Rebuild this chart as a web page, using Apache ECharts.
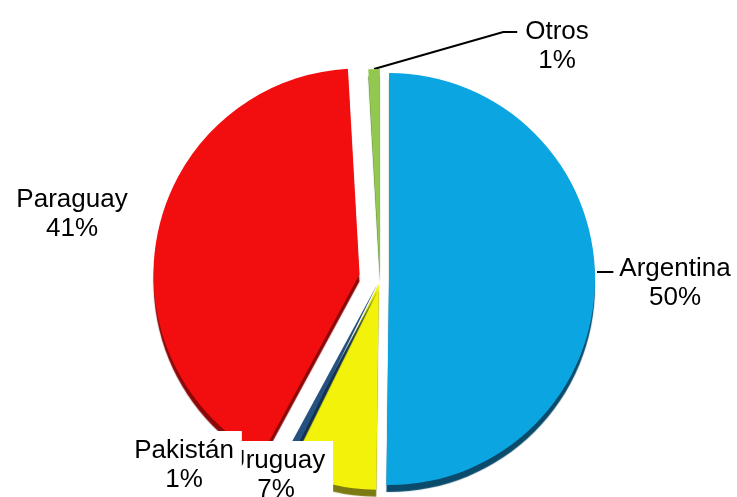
<!DOCTYPE html>
<html>
<head>
<meta charset="utf-8">
<script src="https://cdn.jsdelivr.net/npm/echarts@6/dist/echarts.min.js"></script>
<style>
html, body { margin: 0; padding: 0; background: #fff; }
#chart { width: 737px; height: 497px; }
</style>
</head>
<body>
<div id="chart"></div>
<script>
// datos (sentido horario desde las 12)
const categories = ['Argentina', 'Uruguay', 'Pakistán', 'Paraguay', 'Otros'];
const values = [50.2, 7.1, 0.6, 41.2, 0.9];

// estilo por porción
const colors = ['#0ba6e1', '#f2f20a', '#24517f', '#f20e0e', '#92c850'];
const sideColors = ['#0a4b6b', '#7c7a12', '#12304f', '#8c0808', '#557a2c'];
const explode = [9, 5, 5, 21, 4];
const labelPos = [[675, 283], [276, 475], [184, 465], [72, 214], [557, 46]];
const lineMode = ['side', null, null, null, 'elbow'];
const boxed = [false, true, true, false, false];

const CENTER = [380, 279];
const RADIUS = 206;

const chart = echarts.init(document.getElementById('chart'), null, { renderer: 'canvas' });

// desplazamiento de cada porción hacia fuera, según su ángulo medio
const total = values.reduce((a, b) => a + b, 0);
let acc = 0;
const centers = values.map((v, i) => {
    const mid = (acc + v / 2) / total * Math.PI * 2;
    acc += v;
    return [CENTER[0] + explode[i] * Math.sin(mid), CENTER[1] - explode[i] * Math.cos(mid)];
});

// posición de etiqueta y línea guía
function layoutFor (i) {
    return params => {
        const [x, y] = labelPos[i];
        const out = { x, y, align: 'center', verticalAlign: 'middle' };
        const r = params.labelRect;
        const left = x - r.width / 2;
        const lineY = y - r.height / 2 + 15;
        const p0 = params.labelLinePoints && params.labelLinePoints[0];
        if (p0 && lineMode[i] === 'elbow') {
            out.labelLinePoints = [p0, [left - 22, lineY], [left - 8, lineY]];
        } else if (p0 && lineMode[i] === 'side') {
            out.labelLinePoints = [[p0[0] + 2, lineY + 3], [left - 6, lineY + 3], [left - 6, lineY + 3]];
        }
        return out;
    };
}

// una serie por porción para poder separar cada una con distinta distancia
const series = categories.map((_, i) => ({
    type: 'pie',
    center: centers[i],
    radius: RADIUS,
    startAngle: 90,
    clockwise: true,
    avoidLabelOverlap: false,
    minShowLabelAngle: 0,
    emphasis: { disabled: true },
    silent: true,
    z: 2,
    labelLayout: layoutFor(i),
    data: categories.map((name, j) => {
        const on = j === i;
        return {
            name,
            value: values[j],
            itemStyle: on ? {
                color: colors[j],
                shadowColor: sideColors[j],
                shadowOffsetY: 7,
                shadowBlur: 1
            } : { color: 'rgba(0,0,0,0)' },
            label: {
                show: on,
                formatter: p => p.name + '\n' + Math.round(p.percent) + '%',
                fontFamily: 'Liberation Sans, Arial, sans-serif',
                fontSize: 26,
                lineHeight: 29,
                color: '#000',
                align: 'center',
                backgroundColor: boxed[j] ? '#fff' : 'transparent',
                padding: boxed[j] ? [6, 8, 4, 8] : 0
            },
            labelLine: {
                show: on && lineMode[j] != null,
                length: 10,
                length2: 14,
                lineStyle: { color: '#000', width: 2 }
            }
        };
    })
}));

chart.setOption({
    animation: false,
    backgroundColor: '#fff',
    series
});
</script>
</body>
</html>
